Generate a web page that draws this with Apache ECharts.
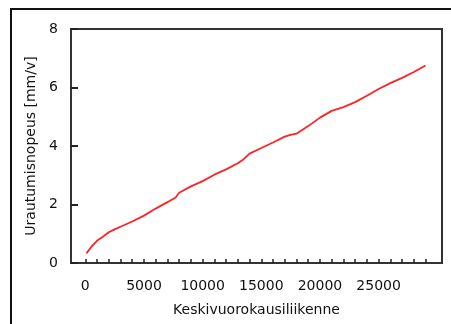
<!DOCTYPE html>
<html>
<head>
<meta charset="utf-8">
<script src="https://cdn.jsdelivr.net/npm/echarts@6/dist/echarts.min.js"></script>
<style>
html,body{margin:0;padding:0;background:#fff;}
#chart{width:451px;height:324px;}
</style>
</head>
<body>
<div id="chart"></div>
<script>
// Data
var traffic = [100, 500, 1000, 1500, 2000, 2500, 3000, 4000, 5000, 6000, 7000, 7700, 8000, 9000, 10000, 11000, 12000, 13000, 13500, 14000, 15000, 16000, 17000, 17500, 18000, 19000, 20000, 21000, 22000, 23000, 24000, 25000, 26000, 27000, 28000, 29000];
var rate    = [0.33, 0.55, 0.76, 0.90, 1.05, 1.15, 1.24, 1.42, 1.62, 1.86, 2.08, 2.24, 2.40, 2.62, 2.80, 3.02, 3.20, 3.41, 3.55, 3.74, 3.93, 4.12, 4.32, 4.38, 4.42, 4.68, 4.97, 5.20, 5.33, 5.50, 5.72, 5.95, 6.15, 6.33, 6.53, 6.75];
var xLabelValues = [0, 5000, 10000, 15000, 20000, 25000];
var xTickValues = [0, 1000, 2000, 3000, 4000, 5000, 6000, 7000, 8000, 9000, 10000, 11000, 12000, 13000, 14000, 15000, 16000, 17000, 18000, 19000, 20000, 21000, 22000, 23000, 24000, 25000, 26000, 27000, 28000, 29000];
var xTitle = 'Keskivuorokausiliikenne';
var yTitle = 'Urautumisnopeus [mm/v]';

var seriesData = traffic.map(function (t, i) { return [t, rate[i]]; });
var font = 'DejaVu Sans';

var chart = echarts.init(document.getElementById('chart'), null, {renderer: 'canvas'});
chart.setOption({
  animation: false,
  backgroundColor: '#fff',
  graphic: [{
    type: 'rect',
    shape: {x: 11, y: 9, width: 470, height: 340},
    style: {fill: 'none', stroke: '#111', lineWidth: 2},
    silent: true
  }],
  grid: {
    left: 71, top: 29, right: 9, bottom: 61,
    show: true, borderColor: '#333', borderWidth: 2, backgroundColor: 'transparent'
  },
  xAxis: {
    type: 'value',
    min: -1220, max: 30400,
    name: xTitle,
    nameLocation: 'middle',
    nameGap: 40,
    nameTextStyle: {fontFamily: font, fontSize: 14, color: '#111'},
    axisLine: {show: true, onZero: false, lineStyle: {color: '#333', width: 2}},
    axisTick: {show: true, inside: true, length: 4, lineStyle: {color: '#222', width: 1.5}, customValues: xTickValues},
    axisLabel: {show: true, margin: 16, fontFamily: font, fontSize: 14, color: '#111', customValues: xLabelValues,
      formatter: function (v) { return String(v); }},
    splitLine: {show: false}
  },
  yAxis: {
    type: 'value',
    min: 0, max: 8, interval: 2,
    name: yTitle,
    nameLocation: 'middle',
    nameRotate: 90,
    nameGap: 22,
    nameTextStyle: {fontFamily: font, fontSize: 14, color: '#111'},
    axisLine: {show: true, onZero: false, lineStyle: {color: '#333', width: 2}},
    axisTick: {show: true, inside: true, length: 7, lineStyle: {color: '#222', width: 2}},
    axisLabel: {show: true, margin: 13, fontFamily: font, fontSize: 14, color: '#111'},
    splitLine: {show: false}
  },
  series: [{
    type: 'line',
    data: seriesData,
    showSymbol: false,
    smooth: false,
    lineStyle: {color: '#f22', width: 1.8},
    itemStyle: {color: '#f22'}
  }]
});
</script>
</body>
</html>
